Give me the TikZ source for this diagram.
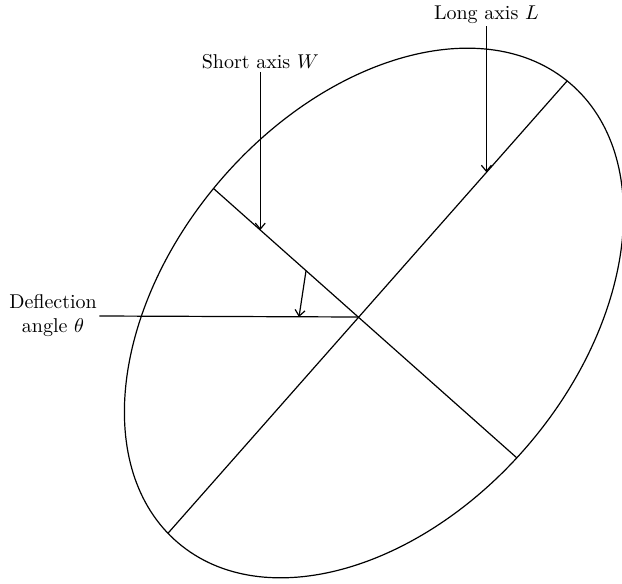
\documentclass[tikz,border=0pt]{standalone}
\usepackage{amsmath, amssymb}
\usepackage{tikz}
\usetikzlibrary{arrows.meta, calc, intersections}

\begin{document}
\begin{tikzpicture}[
  x=0.5pt, y=-0.5pt, line width=0.6pt,
  lbl/.style={inner sep=1pt, align=center, font=\normalsize},
  arr/.style={-{Straight Barb[length=3pt,width=5pt]}}
]
  \useasboundingbox (0,0) rectangle (622,584);

  % outline of the particle
  \draw[name path=outline, rotate around={49.5:(374,313)}]
    (374,313) ellipse [x radius=302, y radius=203];

  \coordinate (c) at (358,317);
  \coordinate (la1) at (168,533);
  \coordinate (la2) at (566,82);
  \coordinate (sa1) at (213,188);
  \coordinate (sa2) at (518,459);

  % axes end on the outline
  \path[name path=lax] ($(c)!1.3!(la1)$) -- ($(c)!1.3!(la2)$);
  \path[name path=sax] ($(c)!1.3!(sa1)$) -- ($(c)!1.3!(sa2)$);
  \path[name intersections={of=outline and lax, by={lend1,lend2}}];
  \path[name intersections={of=outline and sax, by={send1,send2}}];
  \draw (lend1) -- (lend2);
  \draw (send1) -- (send2);

  \coordinate (tipL) at ($(la1)!0.8!(la2)$);
  \coordinate (tipW) at ($(sa1)!0.155!(sa2)$);
  \coordinate (fromD) at ($(sa1)!0.305!(sa2)$);
  \coordinate (toD) at (299,317);

  \node[lbl] (lblL) at (tipL |- 0,15) {Long axis $L$};
  \node[lbl] (lblW) at (tipW |- 0,62) {Short axis $W$};
  \node[lbl] (lblD) at (53,316) {Deflection\\angle $\theta$};

  \draw (lblD.east) -- (c);
  \draw[arr] (lblL) -- (tipL);
  \draw[arr] (lblW) -- (tipW);
  \draw[arr] (fromD) -- (toD);
\end{tikzpicture}
\end{document}
